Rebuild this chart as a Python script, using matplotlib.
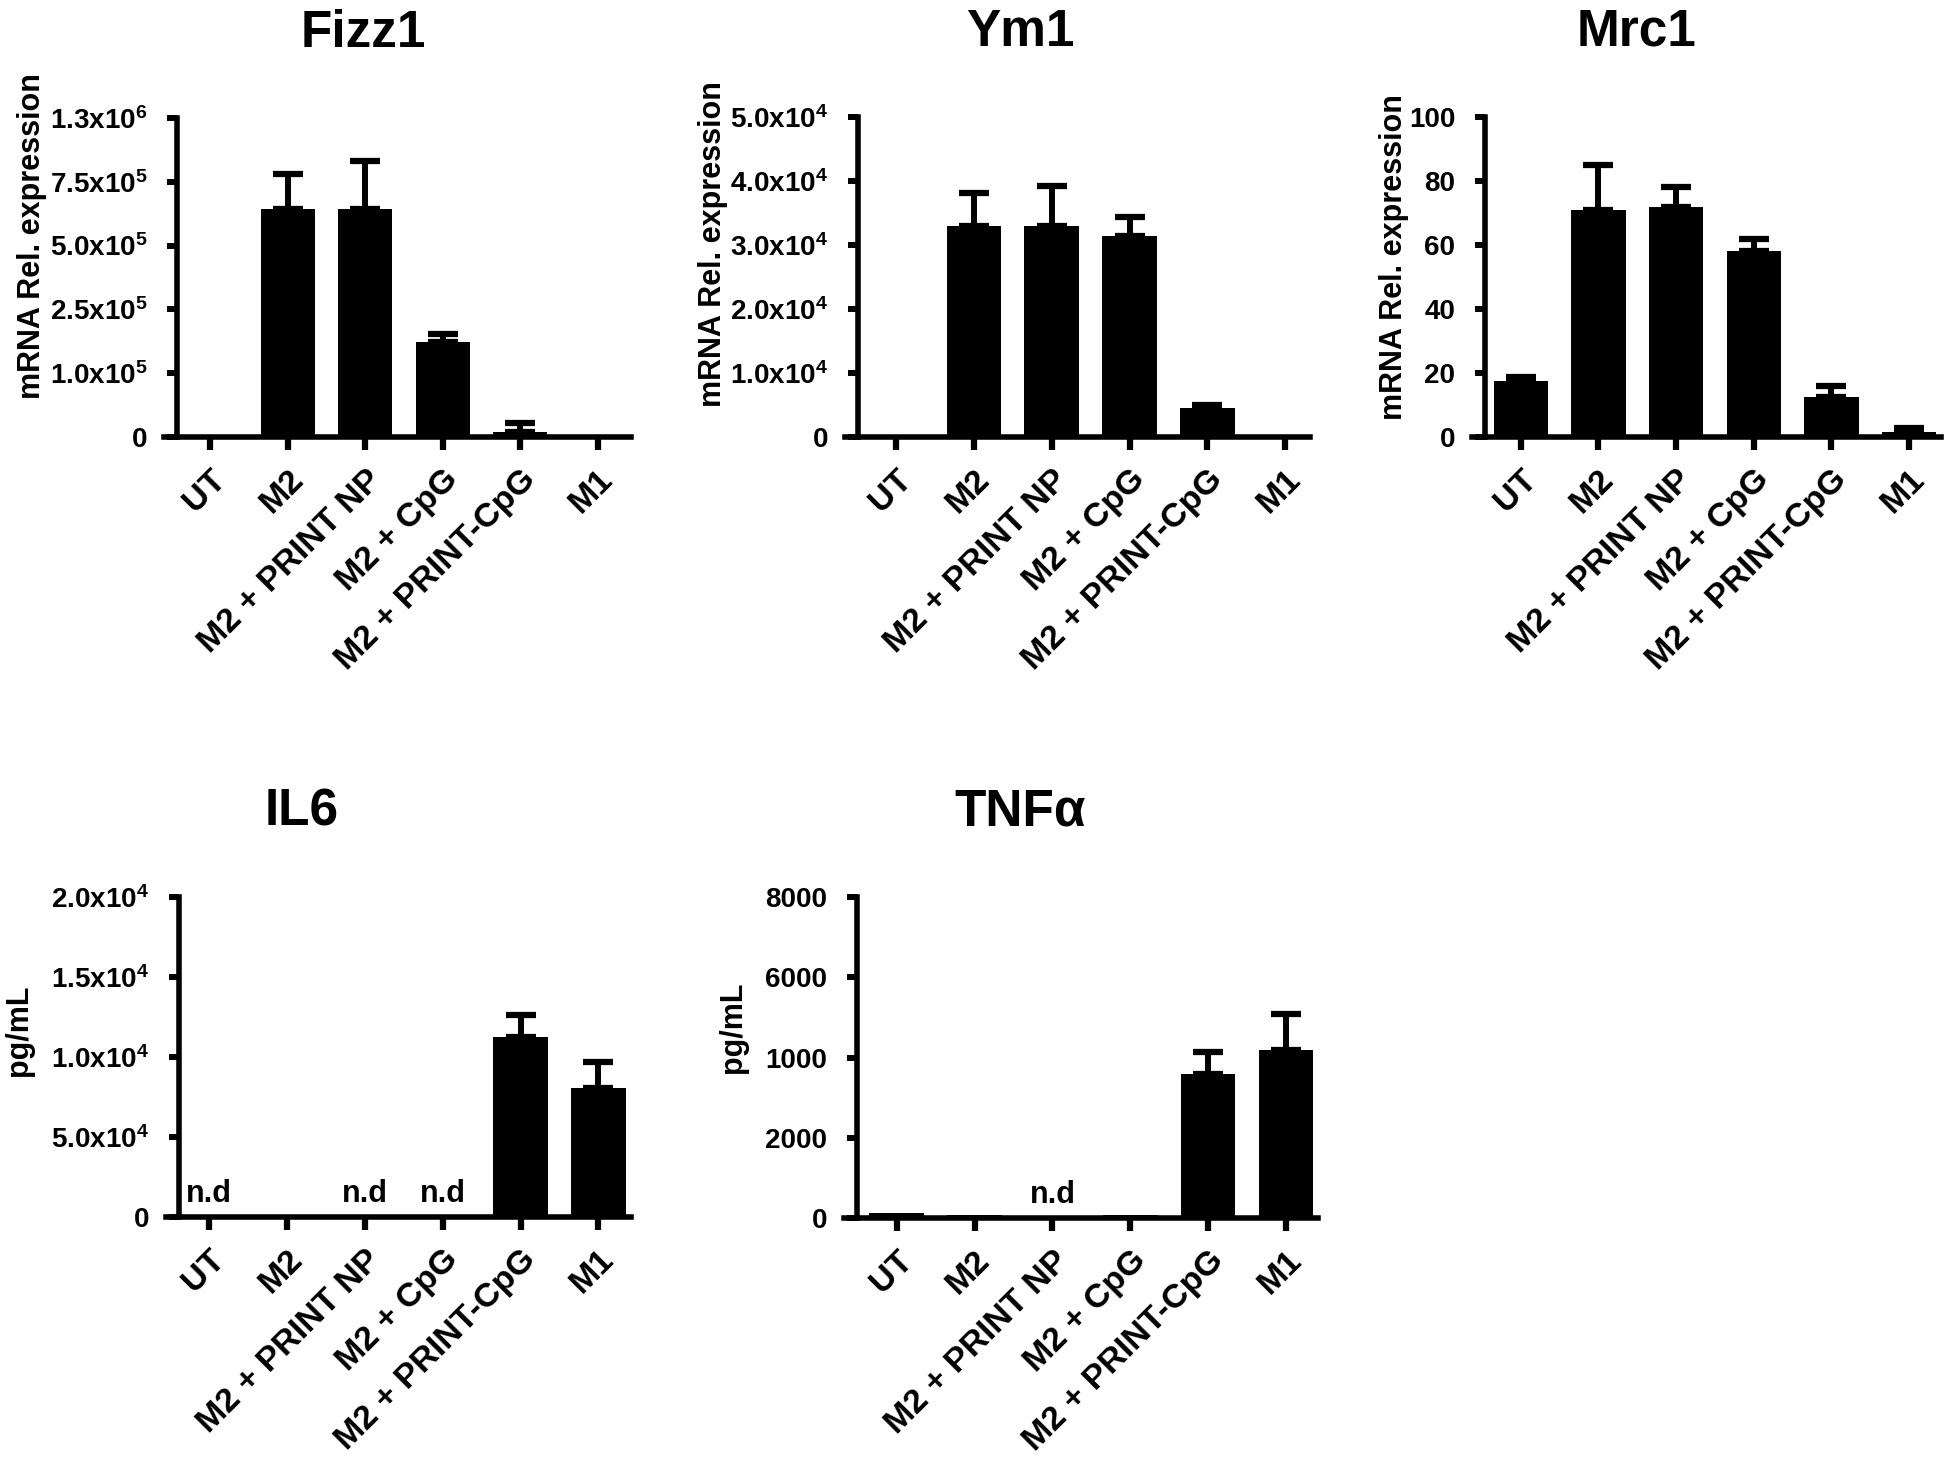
import numpy as np
import matplotlib
matplotlib.use("Agg")
import matplotlib.pyplot as plt

plt.rcParams['font.family'] = ['Liberation Sans', 'DejaVu Sans']
plt.rcParams['font.weight'] = 'bold'
plt.rcParams['mathtext.fontset'] = 'custom'
plt.rcParams['mathtext.bf'] = 'Liberation Sans:bold'
plt.rcParams['mathtext.rm'] = 'Liberation Sans:bold'
plt.rcParams['mathtext.default'] = 'bf'

# groups
categories = ['UT', 'M2', 'M2 + PRINT NP', 'M2 + CpG', 'M2 + PRINT-CpG', 'M1']

# Fizz1 (mRNA rel. expression)
fizz1_mean = [0, 9.3e5, 9.3e5, 3.87e5, 2.0e4, 0]
fizz1_err = [0, 1.43e5, 1.96e5, 3.3e4, 3.7e4, 0]
fizz1_ticks = ['0', '1.0x10$^5$', '2.5x10$^5$', '5.0x10$^5$', '7.5x10$^5$', '1.3x10$^6$']

# Ym1
ym1_mean = [0, 3.30e4, 3.30e4, 3.14e4, 4.5e3, 0]
ym1_err = [0, 5.1e3, 6.2e3, 3.0e3, 5e2, 0]
ym1_ticks = ['0', '1.0x10$^4$', '2.0x10$^4$', '3.0x10$^4$', '4.0x10$^4$', '5.0x10$^4$']

# Mrc1
mrc1_mean = [17.5, 71, 72, 58, 12.5, 1.5]
mrc1_err = [1.2, 14, 6, 4, 3.5, 1.3]
mrc1_ticks = ['0', '20', '40', '60', '80', '100']

# IL6 (pg/mL)
il6_mean = [0, 0, 0, 0, 1.125e4, 8.06e3]
il6_err = [0, 0, 0, 0, 1.35e3, 1.65e3]
il6_ticks = ['0', '5.0x10$^4$', '1.0x10$^4$', '1.5x10$^4$', '2.0x10$^4$']
il6_nd = ['UT', 'M2 + PRINT NP', 'M2 + CpG']

# TNFa (pg/mL)
tnf_mean = [130, 80, 0, 80, 3600, 4175]
tnf_err = [0, 0, 0, 0, 525, 900]
tnf_ticks = ['0', '2000', '1000', '6000', '8000']
tnf_nd = ['M2 + PRINT NP']

W, H = 1950, 1468
fig = plt.figure(figsize=(W / 100, H / 100), dpi=100)


def box(x0, x1, ytop, ybot):
    return [x0 / W, 1 - ybot / H, (x1 - x0) / W, (ybot - ytop) / H]


def panel(rect, xlim, mean, err, ymax, ticklabels, title, title_x, ylabel, ylab_xy, nd=()):
    ax = fig.add_axes(rect)
    x = np.arange(len(categories))
    mean = np.array(mean, dtype=float)
    err = np.array(err, dtype=float)
    ax.bar(x, mean, width=0.7, color='black', edgecolor='black', linewidth=0)
    m = err > 0
    ax.errorbar(x[m], mean[m], yerr=[np.zeros(m.sum()), err[m]], fmt='none',
                ecolor='black', elinewidth=4.3, capsize=10.5, capthick=4.5)
    ax.set_xlim(*xlim)
    ax.set_ylim(0, ymax)
    ax.set_yticks(np.linspace(0, ymax, len(ticklabels)))
    ax.set_yticklabels(ticklabels, fontsize=20, fontweight='bold')
    ax.set_xticks(x)
    ax.set_xticklabels(categories, rotation=45, ha='right', va='top',
                       rotation_mode='anchor', fontsize=24.5, fontweight='bold')
    for s in ['top', 'right']:
        ax.spines[s].set_visible(False)
    for s in ['left', 'bottom']:
        ax.spines[s].set_linewidth(4)
    ax.spines['bottom'].set_bounds(xlim[0] - 0.17, xlim[1])
    ax.tick_params(axis='x', length=9.5, width=4.5, pad=10)
    ax.tick_params(axis='y', length=7.5, width=4.3, pad=14)
    ax.patch.set_alpha(0)
    h_px = rect[3] * H
    ax.text(title_x, 1 + 71 / h_px, title, transform=ax.transAxes, ha='center',
            va='baseline', fontsize=37, fontweight='bold')
    fig.text(ylab_xy[0] / W, 1 - ylab_xy[1] / H, ylabel, rotation=90,
             ha='center', va='center', fontsize=22, fontweight='bold')
    for name in nd:
        i = categories.index(name)
        ax.annotate('n.d', (i, 0), xytext=(0, 11), textcoords='offset points',
                    ha='center', va='baseline', fontsize=22, fontweight='bold')
    return ax


panel(box(177, 631, 118, 437), (-0.43, 5.43), fizz1_mean, fizz1_err, 1.3e6,
      fizz1_ticks, 'Fizz1', 0.41, 'mRNA Rel. expression', (32, 236))

panel(box(858, 1310, 117, 437), (-0.49, 5.32), ym1_mean, ym1_err, 5e4,
      ym1_ticks, 'Ym1', 0.358, 'mRNA Rel. expression', (713, 244))

panel(box(1485, 1941, 117, 437), (-0.46, 5.41), mrc1_mean, mrc1_err, 100,
      mrc1_ticks, 'Mrc1', 0.333, 'mRNA Rel. expression', (1394, 257))

panel(box(179, 631, 897, 1217), (-0.39, 5.42), il6_mean, il6_err, 2e4,
      il6_ticks, 'IL6', 0.272, 'pg/mL', (19, 1030), nd=il6_nd)

panel(box(857, 1318, 897, 1218), (-0.51, 5.41), tnf_mean, tnf_err, 8000,
      tnf_ticks, 'TNFα', 0.354, 'pg/mL', (733, 1027), nd=tnf_nd)

fig.savefig('out.png', dpi=100, facecolor='white')
